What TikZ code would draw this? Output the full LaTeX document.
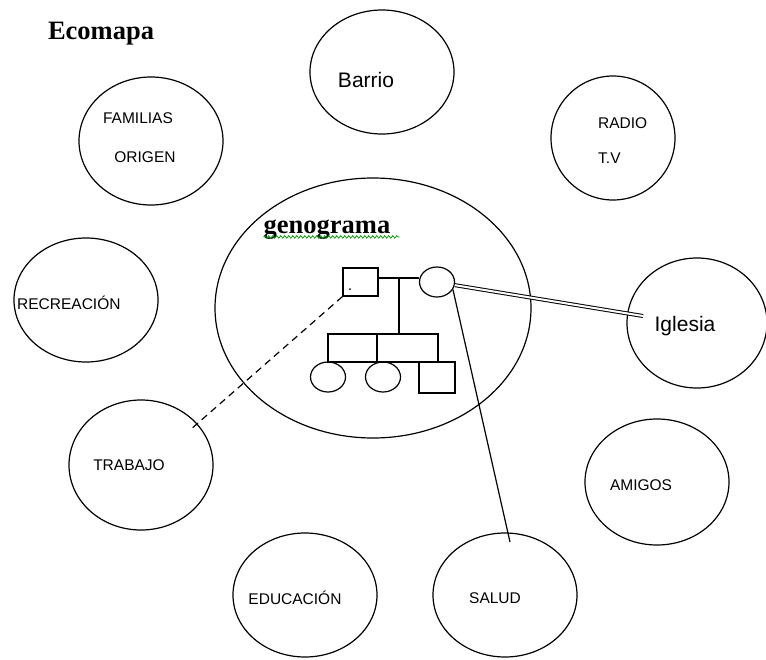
\documentclass[tikz,border=0pt]{standalone}
\usepackage{fontspec}
\setmainfont{Liberation Sans}
\newfontfamily\titulofont{Liberation Serif}
\usetikzlibrary{shapes.geometric,decorations.pathmorphing}

\tikzset{
  ambito/.style={ellipse, draw, line width=1.2pt, inner sep=0pt},
  rotulo/.style={inner sep=0pt, font=\fontsize{15.5}{18}\selectfont},
  rotulogrande/.style={inner sep=0pt, font=\fontsize{21}{24}\selectfont},
  titulo/.style={inner sep=0pt, font=\titulofont\bfseries\fontsize{26.5}{30}\selectfont},
  varon/.style={rectangle, draw, line width=1.2pt, inner sep=0pt},
  mujer/.style={ellipse, draw, line width=1.2pt, inner sep=0pt, minimum width=35pt, minimum height=30pt}
}

\begin{document}
\begin{tikzpicture}[x=1pt,y=-1pt]
  \useasboundingbox (0,0) rectangle (766,659);

  \node[titulo] (ecomapa) at (101,34) {Ecomapa};

  % sistemas alrededor
  \node[ambito, minimum width=144pt, minimum height=124pt] (barrio) at (382,72) {};
  \node[ambito, minimum width=144pt, minimum height=128pt] (familias) at (151,141) {};
  \node[ambito, minimum width=124pt, minimum height=124pt] (radio) at (613,138) {};
  \node[ambito, minimum width=144pt, minimum height=124pt] (recreacion) at (86,300) {};
  \node[ambito, minimum width=144pt, minimum height=130pt] (trabajo) at (141,465) {};
  \node[ambito, minimum width=316pt, minimum height=260pt] (genograma) at (373,308) {};
  \node[ambito, minimum width=140pt, minimum height=130pt] (iglesia) at (697,323) {};
  \node[ambito, minimum width=144pt, minimum height=126pt] (amigos) at (657,482) {};
  \node[ambito, minimum width=144pt, minimum height=124pt] (educacion) at (305,595) {};
  \node[ambito, minimum width=144pt, minimum height=124pt] (salud) at (505,595) {};

  \node[rotulogrande] (tbarrio) at (366,80) {Barrio};
  \node[rotulo] (tfamilias) at (138,118) {FAMILIAS};
  \node[rotulo] (torigen) at (145,157) {ORIGEN};
  \node[rotulo, anchor=west] (tradio) at (598,123) {RADIO};
  \node[rotulo, anchor=west] (ttv) at (598,158) {T.V};
  \node[rotulo, anchor=west] (trecreacion) at (17,303) {RECREACIÓN};
  \node[rotulo] (ttrabajo) at (129,465) {TRABAJO};
  \node[rotulogrande] (tiglesia) at (685,326) {Iglesia};
  \node[rotulo] (tamigos) at (641,485) {AMIGOS};
  \node[rotulo] (teducacion) at (295,598) {EDUCACIÓN};
  \node[rotulo] (tsalud) at (495,598) {SALUD};

  % genograma
  \node[titulo] (tgenograma) at (327,230) {genograma};
  \draw[green!60!black, line width=0.7pt, decorate,
        decoration={snake, amplitude=1.3pt, segment length=4pt}]
    (tgenograma.south west) ++(0,-3) -- ++(136,0);

  \node[varon, minimum width=35pt, minimum height=28pt] (padre) at (360.5,282) {};
  \node[mujer] (madre) at (437,282) {};
  \fill (350,289) circle (1pt);
  \draw[line width=1.2pt] ([yshift=4pt]padre.east) -- ([yshift=4pt]madre.west);
  \coordinate (union) at (399,278);
  \draw[line width=1.2pt] (union) -- (399,334);
  \draw[line width=1.2pt] (328,334) rectangle (377,362) (377,334) rectangle (438,362);
  \node[mujer] (hija1) at (328,377) {};
  \node[mujer] (hija2) at (383,377) {};
  \node[varon, minimum width=36pt, minimum height=31pt] (hijo) at (437,377.5) {};

  % relaciones
  \coordinate (finiglesia) at (643,316);
  \coordinate (finsalud) at (510,542);
  \coordinate (fintrabajo) at (190,430);
  \draw[line width=1.2pt, dash pattern=on 7pt off 5pt] (padre.south west) -- (fintrabajo);
  \draw[line width=1pt, double, double distance=2pt] (madre.-10) -- (finiglesia);
  \draw[line width=1.2pt] (madre.-25) -- (finsalud);
\end{tikzpicture}
\end{document}
